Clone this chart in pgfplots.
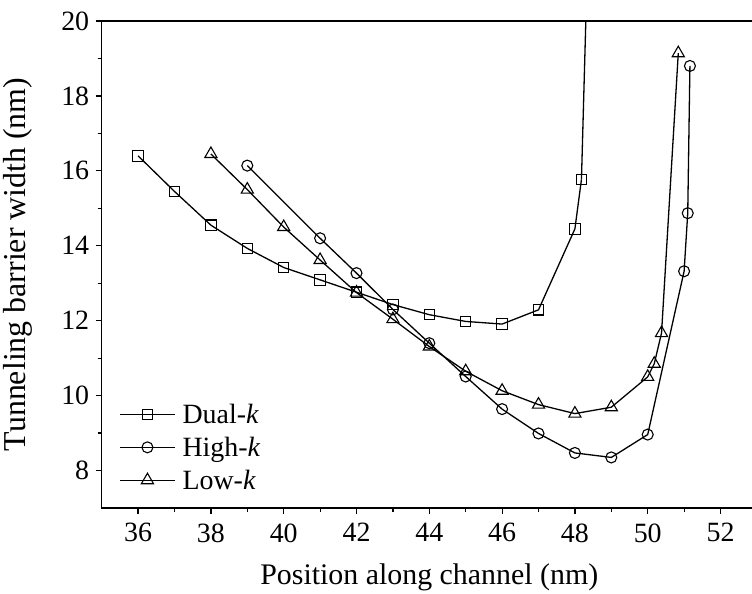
\documentclass[border=0pt]{standalone}
\usepackage{fontspec}
\setmainfont{Liberation Serif}
\usepackage{pgfplots}
\pgfplotsset{compat=1.18}
\begin{document}
\begin{tikzpicture}
\begin{axis}[
  scale only axis, width=655.2bp, height=487bp,
  xmin=35, xmax=53, ymin=7, ymax=20,
  xtick={36,38,...,52}, ytick={8,10,...,20},
  minor x tick num=1, minor y tick num=1,
  tick align=outside, xtick pos=left, ytick pos=left,
  major tick length=6bp, minor tick length=4bp,
  axis line style={line width=1.3bp},
  every tick/.style={black, line width=1.2bp},
  /pgf/number format/assume math mode=true,
  tick label style={font=\fontsize{28}{32}\selectfont},
  xticklabel style={yshift=-6bp},
  yticklabel style={xshift=-3bp},
  xlabel style={font=\fontsize{30}{34}\selectfont, yshift=-15bp},
  ylabel style={font=\fontsize{32}{36}\selectfont, yshift=22bp},
  xlabel={Position along channel (nm)},
  ylabel={Tunneling barrier width (nm)},
  legend cell align=left,
  legend style={draw=none, fill=none, at={(0.022,0.222)}, anchor=north west,
    font=\fontsize{28}{32}\selectfont, row sep=8bp, column sep=5bp,
    nodes={inner sep=2bp}},
  legend image code/.code={\draw[mark repeat=2,mark phase=2,#1] plot coordinates {(0bp,0bp) (27.5bp,0bp) (55bp,0bp)};},
  every axis plot/.append style={black, line width=1.3bp, mark options={solid, fill=white, line width=1.1bp}},
]
\addplot[mark=square, mark size=5.2bp] coordinates {
(36,16.40) (37,15.45) (38,14.55) (39,13.93) (40,13.42) (41,13.09) (42,12.76)
(43,12.43) (44,12.16) (45,11.98) (46,11.91) (47,12.29) (48,14.45) (48.18,15.77)};
\addlegendentry{Dual-\textit{k}}
\addplot[mark=o, mark size=5.5bp] coordinates {
(39,16.14) (41,14.20) (42,13.27) (43,12.30) (44,11.40) (45,10.51) (46,9.64)
(47,8.99) (48,8.47) (49,8.35) (50,8.96) (51.0,13.32) (51.1,14.87) (51.16,18.80)};
\addlegendentry{High-\textit{k}}
\addplot[mark=triangle, mark size=7bp] coordinates {
(38,16.45) (39,15.50) (40,14.50) (41,13.62) (42,12.75) (43,12.04) (44,11.31)
(45,10.65) (46,10.13) (47,9.76) (48,9.52) (49,9.69) (50,10.50) (50.18,10.85)
(50.38,11.67) (50.84,19.14)};
\addlegendentry{Low-\textit{k}}
\addplot[no marks, forget plot] coordinates {(48.18,15.77) (48.30,20.0) (48.31,20.3)};
\end{axis}
\pgfresetboundingbox
\path[use as bounding box] ([shift={(-101.7bp,-86bp)}]current axis.south west) rectangle ([shift={(650.3bp,508bp)}]current axis.south west);
\end{tikzpicture}
\end{document}
